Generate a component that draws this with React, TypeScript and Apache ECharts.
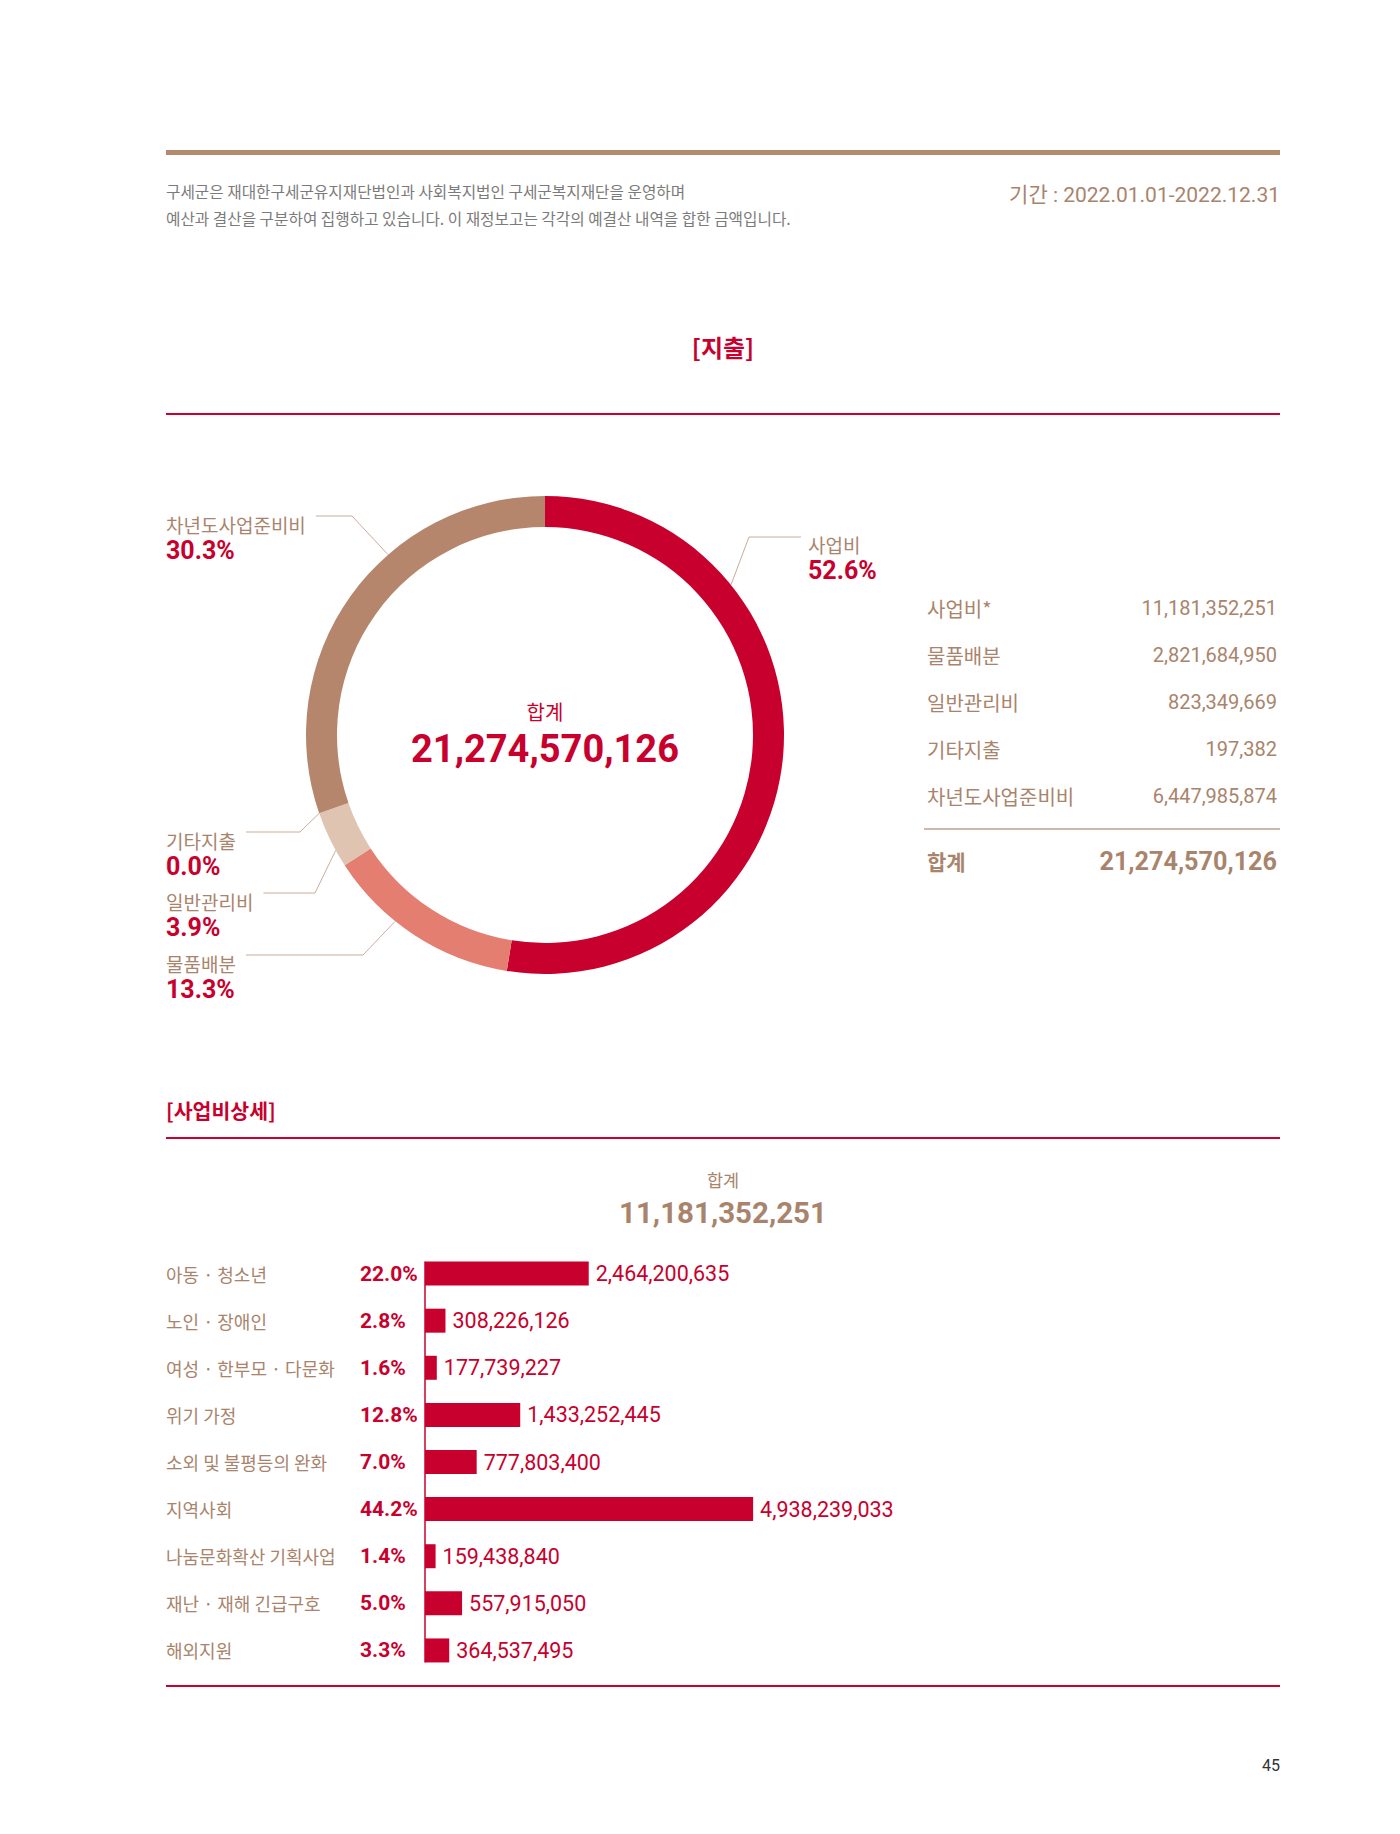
import React, { useEffect, useRef } from "react";
import * as echarts from "echarts";

// Expenditure breakdown (donut + table)
const EXPENSE_NAMES = ["사업비", "물품배분", "일반관리비", "기타지출", "차년도사업준비비"];
const EXPENSE_TABLE_NAMES = ["사업비*", "물품배분", "일반관리비", "기타지출", "차년도사업준비비"];
const EXPENSE_VALUES = [11181352251, 2821684950, 823349669, 197382, 6447985874];

// Program expense details (bar chart)
const PROGRAM_NAMES = [
  "아동 · 청소년",
  "노인 · 장애인",
  "여성 · 한부모 · 다문화",
  "위기 가정",
  "소외 및 불평등의 완화",
  "지역사회",
  "나눔문화확산 기획사업",
  "재난 · 재해 긴급구호",
  "해외지원",
];
const PROGRAM_VALUES = [
  2464200635, 308226126, 177739227, 1433252445, 777803400, 4938239033, 159438840, 557915050,
  364537495,
];

const INTRO_LINES = [
  "구세군은 재대한구세군유지재단법인과 사회복지법인 구세군복지재단을 운영하며",
  "예산과 결산을 구분하여 집행하고 있습니다. 이 재정보고는 각각의 예결산 내역을 합한 금액입니다.",
];
const PERIOD_TEXT = "기간 : 2022.01.01-2022.12.31";

// palette
const RED = "#c8002d";
const SALMON = "#e47e70";
const BEIGE = "#dec4b1";
const BROWN = "#b5866b";
const BROWN_TEXT = "#a9846c";
const LABEL_LINE = "#c9ad9b";
const SLICE_COLORS = [RED, SALMON, BEIGE, BEIGE, BROWN];

const KR = "'Noto Sans CJK KR', sans-serif";
const NUM = "Roboto, 'Noto Sans CJK KR', sans-serif";

// donut geometry
const PIE_CX = 545;
const PIE_CY = 735;
const PIE_R_IN = 208;
const PIE_R_OUT = 239;

// donut label placement: label box anchor, elbow x of leader, and where on the slice the leader lands (fraction of its sweep)
const DONUT_LABEL_LAYOUT = [
  { x: 808, y: 532, side: "right", elbowX: 749, attach: 0.27 },
  { x: 166, y: 951, side: "left", elbowX: 363, attach: 0.62 },
  { x: 166, y: 889, side: "left", elbowX: 315, attach: 0.3 },
  { x: 166, y: 828, side: "left", elbowX: 300, attach: 0.5 },
  { x: 166, y: 512, side: "left", elbowX: 352, attach: 0.624 },
];

const fmt = (v: number) => v.toLocaleString("en-US");

export default function App() {
  const ref = useRef<HTMLDivElement>(null);

  useEffect(() => {
    document.body.style.margin = "0";
    const chart = echarts.init(ref.current!, undefined, { renderer: "svg" });

    const expenseTotal = EXPENSE_VALUES.reduce((a, b) => a + b, 0);
    const programTotal = PROGRAM_VALUES.reduce((a, b) => a + b, 0);
    const pct = (v: number, t: number) => (v / t * 100).toFixed(1) + "%";
    const programPercents = PROGRAM_VALUES.map((v) => pct(v, programTotal));

    // slice start angles (clockwise from 12 o'clock, degrees)
    const starts: number[] = [];
    let acc = 0;
    EXPENSE_VALUES.forEach((v) => {
      starts.push(acc);
      acc += (v / expenseTotal) * 360;
    });
    const attachPoint = (i: number) => {
      const span = (EXPENSE_VALUES[i] / expenseTotal) * 360;
      const th = ((starts[i] + DONUT_LABEL_LAYOUT[i].attach * span) * Math.PI) / 180;
      return [PIE_CX + PIE_R_OUT * Math.sin(th), PIE_CY - PIE_R_OUT * Math.cos(th)];
    };

    const BAR_GRID = { left: 425, top: 1250, width: 598, height: 424 };

    chart.setOption({
      animation: false,
      backgroundColor: "#ffffff",
      grid: { ...BAR_GRID, containLabel: false },
      xAxis: { type: "value", min: 0, max: 9000000000, show: false },
      yAxis: [
        {
          type: "category",
          data: PROGRAM_NAMES,
          inverse: true,
          position: "left",
          axisLine: { show: false },
          axisTick: { show: false },
          axisLabel: {
            interval: 0,
            align: "left",
            margin: 259,
            color: BROWN_TEXT,
            fontSize: 18,
            fontFamily: KR,
          },
        },
        {
          type: "category",
          data: programPercents,
          inverse: true,
          position: "left",
          offset: 0,
          axisLine: { show: false },
          axisTick: { show: false },
          axisLabel: {
            interval: 0,
            align: "left",
            margin: 65,
            color: RED,
            fontSize: 21,
            fontWeight: "bold",
            fontFamily: NUM,
          },
        },
      ],
      series: [
        {
          type: "pie",
          center: [PIE_CX, PIE_CY],
          radius: [PIE_R_IN, PIE_R_OUT],
          startAngle: 90,
          clockwise: true,
          avoidLabelOverlap: false,
          silent: true,
          data: EXPENSE_NAMES.map((name, i) => ({
            name,
            value: EXPENSE_VALUES[i],
            itemStyle: { color: SLICE_COLORS[i] },
          })),
          label: {
            show: true,
            position: "outside",
            formatter: (p: any) => `{n|${p.name}}\n{p|${pct(p.value, expenseTotal)}}`,
            rich: {
              n: { fontSize: 19, lineHeight: 25, color: BROWN_TEXT, fontFamily: KR },
              p: { fontSize: 25, lineHeight: 27, color: RED, fontWeight: "bold", fontFamily: NUM },
            },
          },
          labelLine: { show: true, smooth: false, lineStyle: { color: LABEL_LINE, width: 1 } },
          labelLayout: (params: any) => {
            const i = params.dataIndex;
            const L = DONUT_LABEL_LAYOUT[i];
            const w = params.labelRect.width;
            const ly = L.y + 4;
            const end = L.side === "left" ? [L.x + w + 10, ly] : [L.x - 7, ly + 1];
            return {
              x: L.x,
              y: L.y,
              align: "left",
              verticalAlign: "top",
              labelLinePoints: [attachPoint(i), [L.elbowX, end[1]], end],
            };
          },
        },
        {
          type: "bar",
          xAxisIndex: 0,
          yAxisIndex: 0,
          data: PROGRAM_VALUES,
          barWidth: 24,
          silent: true,
          itemStyle: { color: RED },
          label: {
            show: true,
            position: "right",
            distance: 7,
            formatter: (p: any) => fmt(p.value),
            color: RED,
            fontSize: 21.5,
            fontFamily: NUM,
          },
        },
      ],
    });

    // vertical baseline of the bar chart, spanning first to last bar
    const x0 = chart.convertToPixel({ xAxisIndex: 0 }, 0) as number;
    const yFirst = chart.convertToPixel({ yAxisIndex: 0 }, PROGRAM_NAMES[0]) as number;
    const yLast = chart.convertToPixel(
      { yAxisIndex: 0 },
      PROGRAM_NAMES[PROGRAM_NAMES.length - 1]
    ) as number;

    const text = (
      t: string,
      x: number,
      y: number,
      size: number,
      color: string,
      opts: { align?: string; weight?: string; family?: string } = {}
    ) => ({
      type: "text",
      x,
      y,
      silent: true,
      style: {
        text: t,
        fill: color,
        fontSize: size,
        fontWeight: opts.weight || "normal",
        fontFamily: opts.family || KR,
        align: opts.align || "left",
        textAlign: opts.align || "left",
        verticalAlign: "middle",
        textVerticalAlign: "middle",
      },
    });
    const hline = (x1: number, x2: number, y: number, color: string, w: number) => ({
      type: "line",
      silent: true,
      shape: { x1, y1: y, x2, y2: y },
      style: { stroke: color, lineWidth: w },
    });

    const elements: any[] = [];
    // header
    elements.push({
      type: "rect",
      silent: true,
      shape: { x: 166, y: 150, width: 1114, height: 5 },
      style: { fill: "#b48a6f" },
    });
    INTRO_LINES.forEach((t, i) => elements.push(text(t, 166, 191 + i * 27, 15.7, "#7b7b7b")));
    elements.push(text(PERIOD_TEXT, 1280, 195, 21, BROWN_TEXT, { align: "right", family: NUM }));

    // expenditure section
    elements.push(text("[지출]", 723, 346, 24, RED, { align: "center", weight: "bold" }));
    elements.push(hline(166, 1280, 414, RED, 2));
    elements.push(text("합계", PIE_CX, 711, 20, RED, { align: "center" }));
    elements.push(
      text(fmt(expenseTotal), PIE_CX, 749, 38, RED, { align: "center", weight: "bold", family: NUM })
    );

    // table
    EXPENSE_TABLE_NAMES.forEach((n, i) => {
      const y = 608 + i * 47;
      elements.push(text(n, 927, y, 20, BROWN_TEXT));
      elements.push(text(fmt(EXPENSE_VALUES[i]), 1277, y, 20, BROWN_TEXT, { align: "right", family: NUM }));
    });
    elements.push(hline(924, 1280, 829, "#bda28f", 1.5));
    elements.push(text("합계", 927, 861, 21, BROWN_TEXT, { weight: "bold" }));
    elements.push(
      text(fmt(expenseTotal), 1277, 861, 25.2, BROWN_TEXT, { align: "right", weight: "bold", family: NUM })
    );

    // program details section
    elements.push(text("[사업비상세]", 166, 1110, 20.5, RED, { weight: "bold" }));
    elements.push(hline(166, 1280, 1138, RED, 2));
    elements.push(text("합계", 723, 1179, 17.5, BROWN_TEXT, { align: "center" }));
    elements.push(
      text(fmt(programTotal), 723, 1213, 29.5, BROWN_TEXT, { align: "center", weight: "bold", family: NUM })
    );
    elements.push({
      type: "line",
      silent: true,
      shape: { x1: x0, y1: yFirst - 12, x2: x0, y2: yLast + 12 },
      style: { stroke: RED, lineWidth: 1.5 },
    });
    elements.push(hline(166, 1280, 1686, RED, 2));

    // page number
    elements.push(text("45", 1280, 1765, 16, "#333333", { align: "right", family: NUM }));

    chart.setOption({ graphic: { elements } });

    return () => chart.dispose();
  }, []);

  return <div ref={ref} style={{ width: 1400, height: 1834, background: "#ffffff" }} />;
}
